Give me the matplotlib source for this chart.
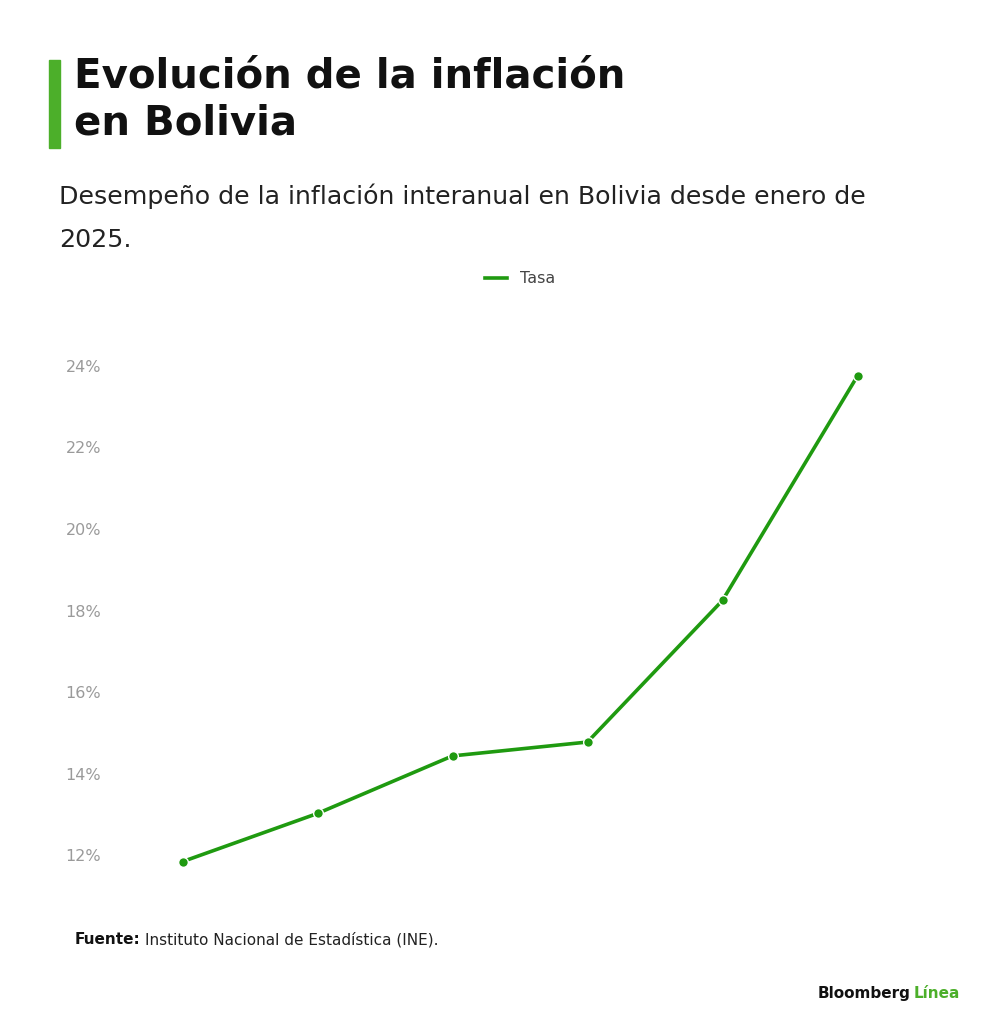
import numpy as np
import matplotlib.pyplot as plt


def draw_line(data, title, subtitle):
    keys = list(data.keys())
    values = list(data.values())

    fig = plt.figure(figsize=(10, 10.34), dpi=100)
    fig.patch.set_facecolor("white")

    # header
    fig.patches.append(plt.Rectangle((0.049, 0.857), 0.011, 0.085, transform=fig.transFigure,
                                     color="#4caf2a", figure=fig))
    fig.text(0.074, 0.945, title, fontsize=29, fontweight="bold", va="top",
             color="#111111", linespacing=1.2)
    fig.text(0.059, 0.823, subtitle, fontsize=18.2, va="top", color="#222222",
             linespacing=2.0)

    # creating the line plot
    ax = fig.add_axes([0.115, 0.145, 0.81, 0.525])
    ax.plot(keys, values, color="#1f9a10", linewidth=2.6, marker="o", markersize=7,
            markeredgecolor="white", markeredgewidth=1, label="Tasa")
    ax.set_ylim(11.3, 24.6)
    ax.set_xlim(-0.5, len(keys) - 0.5)
    ax.set_yticks(np.arange(12, 25, 2))
    ax.set_yticklabels([f"{t}%" for t in range(12, 25, 2)])
    ax.set_xticks([])
    ax.tick_params(axis="y", length=0, labelsize=11.5, colors="#9a9a9a", pad=10)
    for s in ax.spines.values():
        s.set_visible(False)
    leg = ax.legend(loc="upper center", bbox_to_anchor=(0.5, 1.155), frameon=False,
                    fontsize=11.5, handlelength=1.4, labelcolor="#444444", markerscale=0)
    for h in leg.legend_handles:
        h.set_marker("")

    # footer
    fig.text(0.075, 0.087, "Fuente:", fontsize=11, fontweight="bold", color="#111111")
    fig.text(0.145, 0.087, "Instituto Nacional de Estadística (INE).", fontsize=11,
             color="#222222")
    fig.text(0.818, 0.035, "Bloomberg", fontsize=11, fontweight="bold", color="#111111")
    fig.text(0.914, 0.035, "Línea", fontsize=11, fontweight="bold", color="#4caf2a")
    plt.savefig("out.png", dpi=100)


tasa = {"ene": 11.85, "feb": 13.03, "mar": 14.44, "abr": 14.78, "may": 18.25, "jun": 23.75}
draw_line(tasa, "Evolución de la inflación\nen Bolivia",
          "Desempeño de la inflación interanual en Bolivia desde enero de\n2025.")
